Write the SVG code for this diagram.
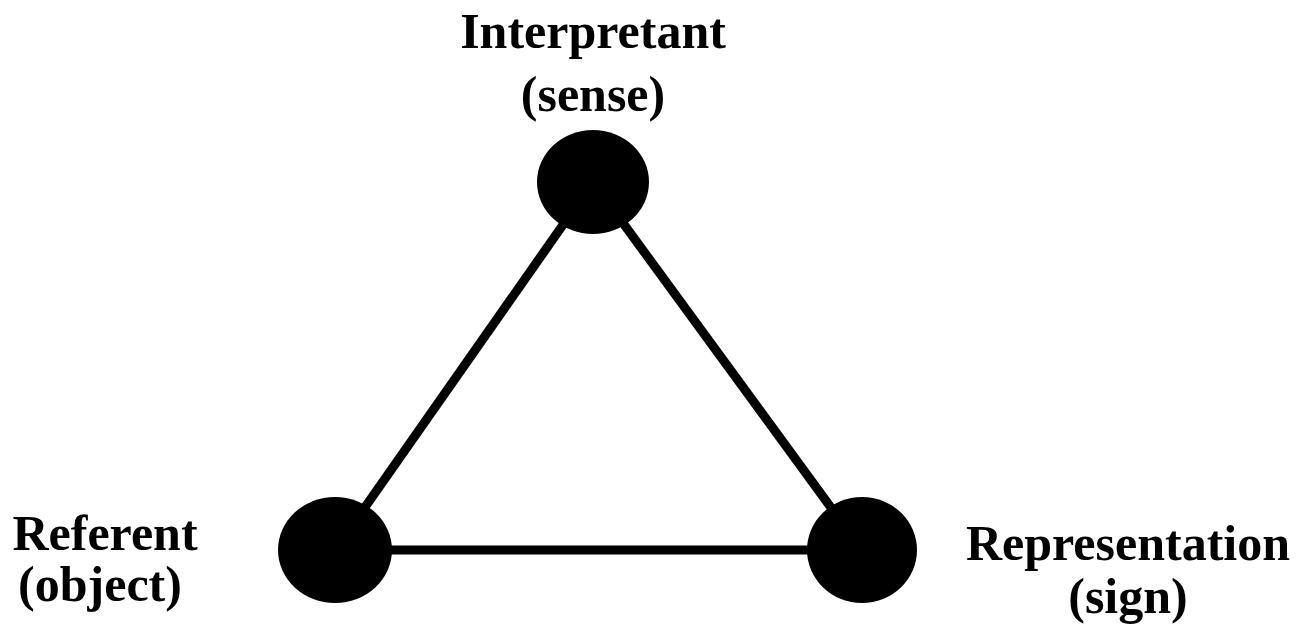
<svg xmlns="http://www.w3.org/2000/svg" width="1315" height="628" viewBox="0 0 1315 628">
<style>
.lbl{font-family:"Liberation Serif","Times New Roman",serif;font-weight:bold;font-size:50px;fill:#000;text-anchor:middle}
.edge{stroke:#000;stroke-width:9;fill:none}
.dot{fill:#000}
</style>
<rect width="1315" height="628" fill="#fff"/>
<g id="connectors">
<line class="edge" x1="593" y1="182" x2="335" y2="550"/>
<line class="edge" x1="593" y1="182" x2="862" y2="550"/>
<line class="edge" x1="335" y1="550" x2="862" y2="550"/>
</g>
<g id="interpretant">
<ellipse class="dot" cx="593" cy="182" rx="56" ry="52"/>
<text class="lbl" x="593" y="48">Interpretant</text>
<text class="lbl" x="593" y="111">(sense)</text>
</g>
<g id="referent">
<ellipse class="dot" cx="335" cy="550" rx="57" ry="53"/>
<text class="lbl" x="105" y="550">Referent</text>
<text class="lbl" x="100" y="601">(object)</text>
</g>
<g id="representation">
<ellipse class="dot" cx="862" cy="550" rx="55" ry="53"/>
<text class="lbl" x="1128" y="560">Representation</text>
<text class="lbl" x="1128" y="613">(sign)</text>
</g>
</svg>
